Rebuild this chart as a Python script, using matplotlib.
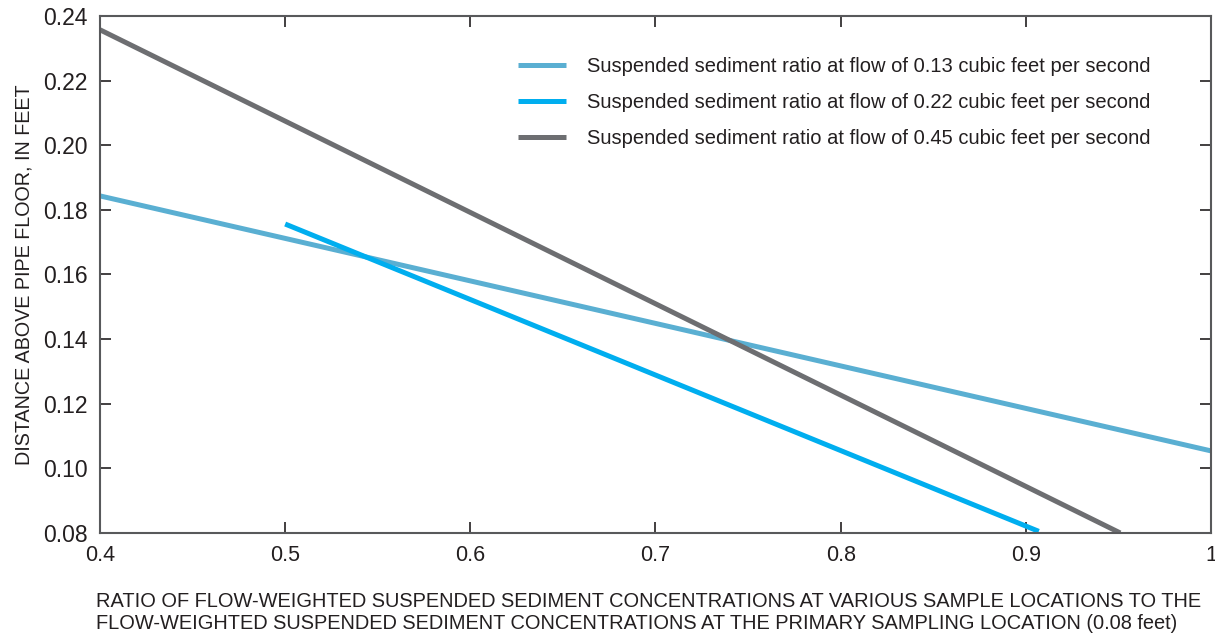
import matplotlib.pyplot as plt

plt.rcParams['font.family'] = ['Liberation Sans', 'DejaVu Sans']

# ratio vs. height above pipe floor, end points of each fitted line
ratio_013 = [0.4, 1.0]
height_013 = [0.1843, 0.1054]
ratio_022 = [0.5, 0.907]
height_022 = [0.1756, 0.0805]
ratio_045 = [0.4, 0.951]
height_045 = [0.2357, 0.0800]

labels = ['Suspended sediment ratio at flow of 0.13 cubic feet per second',
          'Suspended sediment ratio at flow of 0.22 cubic feet per second',
          'Suspended sediment ratio at flow of 0.45 cubic feet per second']
colors = ['#5aafd2', '#00aeef', '#6d6e71']

xticks = [0.4, 0.5, 0.6, 0.7, 0.8, 0.9, 1.0]
xticklabels = ['0.4', '0.5', '0.6', '0.7', '0.8', '0.9', '1']
yticks = [0.08, 0.10, 0.12, 0.14, 0.16, 0.18, 0.20, 0.22, 0.24]

fig = plt.figure(figsize=(12.15, 6.36), dpi=100)
ax = fig.add_axes([0.0823, 0.162, 0.9144, 0.813])

ax.plot(ratio_013, height_013, color=colors[0], lw=3.6, label=labels[0], solid_capstyle='butt')
ax.plot(ratio_022, height_022, color=colors[1], lw=3.6, label=labels[1], solid_capstyle='butt')
ax.plot(ratio_045, height_045, color=colors[2], lw=3.6, label=labels[2], solid_capstyle='butt')

ax.set_xlim(0.4, 1.0)
ax.set_ylim(0.08, 0.24)
ax.set_xticks(xticks)
ax.set_xticklabels(xticklabels)
ax.set_yticks(yticks)
ax.set_yticklabels(['%.2f' % v for v in yticks])
ax.tick_params(direction='in', top=True, right=True, length=8, width=1.2,
               colors='#231f20', pad=6)
ax.tick_params(axis='x', labelsize=15.5, pad=9)
ax.tick_params(axis='y', labelsize=16.5, pad=9)
for s in ax.spines.values():
    s.set_color('#58595b')
    s.set_linewidth(1.5)

ax.set_ylabel('DISTANCE ABOVE PIPE FLOOR, IN FEET', fontsize=14.2, color='#231f20', labelpad=7)
fig.text(0.079, 0.004,
         'RATIO OF FLOW-WEIGHTED SUSPENDED SEDIMENT CONCENTRATIONS AT VARIOUS SAMPLE LOCATIONS TO THE\n'
         'FLOW-WEIGHTED SUSPENDED SEDIMENT CONCENTRATIONS AT THE PRIMARY SAMPLING LOCATION (0.08 feet)',
         fontsize=14.4, color='#231f20', ha='left', va='bottom', linespacing=1.25)

leg = ax.legend(loc='upper left', bbox_to_anchor=(0.36, 0.956), frameon=False,
                fontsize=14.5, handlelength=2.4, handletextpad=1.0, labelspacing=0.85)
for t in leg.get_texts():
    t.set_color('#231f20')

fig.savefig('out.png', dpi=100)
